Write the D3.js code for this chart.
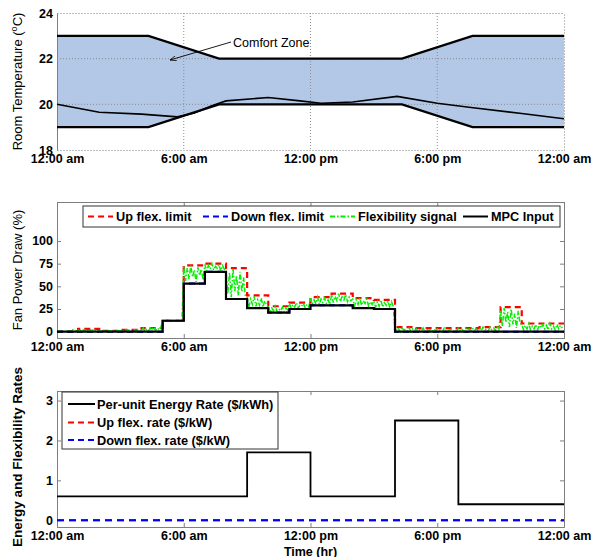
<!DOCTYPE html>
<html>
<head>
<meta charset="utf-8">
<script src="https://cdn.jsdelivr.net/npm/d3@7"></script>
<style>
  body { margin: 0; background: #fff; }
  svg { font-family: "Liberation Sans", Arial, sans-serif; }
</style>
</head>
<body>
<svg id="chart" width="600" height="557"></svg>
<script>
// ---- data ----
const xTickHours = [0, 6, 12, 18, 24];
const xTickLabels = ['12:00 am', '6:00 am', '12:00 pm', '6:00 pm', '12:00 am'];

// top panel: comfort zone and room temperature
const zoneHours = [0, 4.33, 7.67, 16.33, 19.67, 24];
const zoneUpper = [23, 23, 22, 22, 23, 23];
const zoneLower = [19, 19, 20, 20, 19, 19];
const tempHours = [0, 2, 4, 5.7, 6.5, 7.3, 8, 10, 11.5, 12.5, 14, 16.1, 18, 19.7, 22, 24];
const tempValues = [20, 19.65, 19.57, 19.45, 19.62, 19.93, 20.15, 20.3, 20.15, 20.05, 20.1, 20.35, 20.05, 19.85, 19.6, 19.37];
const tempTicks = [18, 20, 22, 24];

// middle panel: hourly fan power (%)
const mpcInput = [0, 0, 0, 0, 0, 12, 53, 66, 36, 26, 21, 25, 29, 29, 26, 25, 0, 0, 0, 0, 0, 0, 0, 0];
const upLimit = [0, 3, 1, 2, 4, 12, 73, 75, 70, 40, 28, 32, 38, 42, 37, 35, 5, 4, 4, 4, 5, 27, 9, 9];
const downLimit = [0, 0, 0, 0, 0, 12, 53, 66, 36, 26, 21, 25, 29, 29, 26, 25, 0, 0, 0, 0, 0, 0, 0, 0];
// flexibility signal, one value every 5 minutes (one row per hour)
const flexSignal = [
  0, 1, 0, 1, 0, 1, 0, 1, 0, 2, 0, 1,
  1, 3, 0, 2, 1, 3, 0, 2, 1, 3, 1, 2,
  0, 1, 0, 1, 0, 1, 1, 0, 1, 0, 1, 1,
  1, 2, 0, 2, 1, 2, 0, 1, 2, 1, 2, 1,
  1, 4, 0, 3, 1, 4, 2, 5, 1, 4, 2, 5,
  12, 12, 12, 12, 12, 12, 12, 12, 12, 12, 12, 12,
  72, 56, 70, 58, 73, 60, 68, 55, 71, 62, 69, 57,
  74, 67, 73, 69, 75, 68, 72, 70, 74, 67, 73, 69,
  68, 42, 65, 38, 70, 45, 62, 40, 66, 44, 60, 39,
  38, 27, 36, 30, 39, 28, 35, 29, 37, 27, 34, 30,
  27, 22, 26, 23, 28, 22, 25, 23, 27, 22, 26, 24,
  31, 26, 30, 27, 32, 26, 29, 28, 31, 26, 30, 27,
  37, 30, 35, 31, 38, 30, 36, 32, 37, 31, 35, 30,
  41, 32, 39, 34, 42, 33, 40, 35, 41, 33, 38, 34,
  36, 28, 35, 30, 37, 29, 34, 31, 36, 28, 33, 30,
  34, 27, 33, 28, 35, 27, 32, 29, 34, 27, 33, 28,
  4, 1, 3, 0, 5, 1, 3, 1, 4, 0, 3, 1,
  3, 0, 2, 1, 4, 0, 3, 1, 2, 0, 3, 1,
  3, 1, 2, 0, 4, 1, 2, 1, 3, 0, 2, 1,
  4, 1, 3, 0, 4, 2, 3, 1, 4, 1, 3, 2,
  4, 1, 5, 2, 3, 1, 5, 2, 4, 1, 5, 2,
  24, 6, 26, 10, 22, 5, 25, 8, 20, 4, 23, 9,
  8, 2, 7, 3, 9, 2, 6, 3, 8, 2, 7, 4,
  8, 3, 7, 2, 9, 3, 6, 2, 8, 3, 7, 4
];
const powerTicks = [0, 25, 50, 75, 100];

// bottom panel: rates
const rateHours = [0, 9, 12, 16, 19, 24];
const energyRate = [0.6, 1.7, 0.6, 2.5, 0.4, 0.4];
const upRate = [0, 0, 0, 0, 0, 0];
const downRate = [0, 0, 0, 0, 0, 0];
const rateTicks = [0, 1, 2, 3];

// ---- layout ----
const svg = d3.select('#chart');
const left = 57, right = 564;
const x = d3.scaleLinear().domain([0, 24]).range([left, right]);

const panels = {
  top: { y0: 13, y1: 150, domain: [18, 24] },
  mid: { y0: 202, y1: 338, domain: [-7, 143] },
  bot: { y0: 391, y1: 527, domain: [-0.17, 3.24] },
};
Object.values(panels).forEach(p => {
  p.y = d3.scaleLinear().domain(p.domain).range([p.y1, p.y0]);
});

const boxColor = '#7f7f7f';

function drawAxes(p, yTicks, grid) {
  const g = svg.append('g');
  const ts = grid ? 0 : -4;
  const xb = g.append('g').attr('transform', `translate(0,${p.y1})`)
    .call(d3.axisBottom(x).tickValues(xTickHours).tickFormat((d, i) => xTickLabels[i]).tickSize(ts).tickPadding(4));
  const xt = g.append('g').attr('transform', `translate(0,${p.y0})`)
    .call(d3.axisTop(x).tickValues(xTickHours).tickFormat('').tickSize(ts));
  const yl = g.append('g').attr('transform', `translate(${left},0)`)
    .call(d3.axisLeft(p.y).tickValues(yTicks).tickFormat(d => String(d)).tickSize(ts).tickPadding(4));
  const yr = g.append('g').attr('transform', `translate(${right},0)`)
    .call(d3.axisRight(p.y).tickValues(yTicks).tickFormat('').tickSize(ts));
  [xb, xt, yl, yr].forEach(a => {
    a.select('.domain').attr('stroke', boxColor).attr('stroke-width', 1);
    a.selectAll('.tick line').attr('stroke', boxColor);
    a.selectAll('.tick text').attr('font-size', 12.5).attr('font-weight', 'bold').attr('fill', '#000')
      .attr('font-family', '"Liberation Sans", Arial, sans-serif');
  });
  if (grid) {
    [xb, xt, yr].forEach(a => a.select('.domain').attr('stroke-dasharray', '1,2'));
  }
  return g;
}

// ---- top panel ----
const T = panels.top;
svg.append('path')
  .datum(zoneHours.map((h, i) => ({ h, u: zoneUpper[i], l: zoneLower[i] })))
  .attr('fill', '#b3c8e6')
  .attr('d', d3.area().x(d => x(d.h)).y0(d => T.y(d.l)).y1(d => T.y(d.u)));

// dotted grid
svg.append('g').selectAll('line').data(xTickHours.slice(1, 4)).join('line')
  .attr('x1', d => x(d)).attr('x2', d => x(d)).attr('y1', T.y0).attr('y2', T.y1)
  .attr('stroke', '#8c8c8c').attr('stroke-dasharray', '1,2');
svg.append('g').selectAll('line').data(tempTicks.slice(1, 3)).join('line')
  .attr('x1', left).attr('x2', right).attr('y1', d => T.y(d)).attr('y2', d => T.y(d))
  .attr('stroke', '#8c8c8c').attr('stroke-dasharray', '1,2');

drawAxes(T, tempTicks, true);

const zoneLine = d3.line().x(d => x(d[0])).y(d => T.y(d[1]));
[zoneUpper, zoneLower].forEach(arr => {
  svg.append('path').attr('d', zoneLine(zoneHours.map((h, i) => [h, arr[i]])))
    .attr('fill', 'none').attr('stroke', '#000').attr('stroke-width', 2.2);
});
svg.append('path').attr('d', zoneLine(tempHours.map((h, i) => [h, tempValues[i]])))
  .attr('fill', 'none').attr('stroke', '#000').attr('stroke-width', 1.6);

// annotation
svg.append('defs').append('marker')
  .attr('id', 'arrow').attr('viewBox', '0 0 10 10').attr('refX', 10).attr('refY', 5)
  .attr('markerWidth', 7).attr('markerHeight', 7).attr('orient', 'auto')
  .append('path').attr('d', 'M0,1 L10,5 L0,9').attr('fill', 'none').attr('stroke', '#000').attr('stroke-width', 1.2);
svg.append('line').attr('x1', 231).attr('y1', 42).attr('x2', 170).attr('y2', 60)
  .attr('stroke', '#000').attr('stroke-width', 0.9).attr('marker-end', 'url(#arrow)');
svg.append('text').attr('x', 233).attr('y', 47).attr('font-size', 12.5).text('Comfort Zone');

svg.append('text')
  .attr('transform', `translate(22,${(T.y0 + T.y1) / 2}) rotate(-90)`)
  .attr('text-anchor', 'middle').attr('font-size', 13)
  .html('Room Temperature (<tspan font-size="9" dy="-5">o</tspan><tspan dy="5">C)</tspan>');

// ---- middle panel ----
const M = panels.mid;
drawAxes(M, powerTicks, false);
const stepLine = d3.line().x(d => x(d[0])).y(d => M.y(d[1])).curve(d3.curveStepAfter);
const hourly = arr => [...arr.map((v, i) => [i, v]), [24, arr[arr.length - 1]]];

svg.append('path').attr('d', stepLine(hourly(upLimit)))
  .attr('fill', 'none').attr('stroke', '#ff0000').attr('stroke-width', 2.2).attr('stroke-dasharray', '6,4');
svg.append('path').attr('d', stepLine(hourly(downLimit)))
  .attr('fill', 'none').attr('stroke', '#0000ff').attr('stroke-width', 2).attr('stroke-dasharray', '6,4');
svg.append('path')
  .attr('d', d3.line().x((d, i) => x(i / 12)).y(d => M.y(d))(flexSignal))
  .attr('fill', 'none').attr('stroke', '#00f000').attr('stroke-width', 1.5).attr('stroke-dasharray', '5,2,1.5,2');
svg.append('path').attr('d', stepLine(hourly(mpcInput)))
  .attr('fill', 'none').attr('stroke', '#000').attr('stroke-width', 2.2);

// middle legend
const legM = [
  { label: 'Up flex. limit', color: '#ff0000', dash: '6,4', x0: 88 },
  { label: 'Down flex. limit', color: '#0000ff', dash: '6,4', x0: 203 },
  { label: 'Flexibility signal', color: '#00f000', dash: '5,2,1.5,2', x0: 330 },
  { label: 'MPC Input', color: '#000', dash: null, x0: 463 },
];
svg.append('rect').attr('x', 83).attr('y', 206).attr('width', 477).attr('height', 21)
  .attr('fill', '#fff').attr('stroke', '#333');
legM.forEach(d => {
  svg.append('line').attr('x1', d.x0).attr('x2', d.x0 + 25).attr('y1', 216.5).attr('y2', 216.5)
    .attr('stroke', d.color).attr('stroke-width', 2).attr('stroke-dasharray', d.dash);
  svg.append('text').attr('x', d.x0 + 28).attr('y', 221).attr('font-size', 12.7).attr('font-weight', 'bold').text(d.label);
});
svg.append('text')
  .attr('transform', `translate(22,${(M.y0 + M.y1) / 2}) rotate(-90)`)
  .attr('text-anchor', 'middle').attr('font-size', 13).text('Fan Power Draw (%)');

// ---- bottom panel ----
const B = panels.bot;
drawAxes(B, rateTicks, false);
const rateLine = d3.line().x(d => x(d[0])).y(d => B.y(d[1])).curve(d3.curveStepAfter);
svg.append('path').attr('d', rateLine(rateHours.map((h, i) => [h, energyRate[i]])))
  .attr('fill', 'none').attr('stroke', '#000').attr('stroke-width', 1.8);
svg.append('path').attr('d', rateLine(rateHours.map((h, i) => [h, upRate[i]])))
  .attr('fill', 'none').attr('stroke', '#ff0000').attr('stroke-width', 2).attr('stroke-dasharray', '7,5');
svg.append('path').attr('d', rateLine(rateHours.map((h, i) => [h, downRate[i]])))
  .attr('fill', 'none').attr('stroke', '#0000ff').attr('stroke-width', 2).attr('stroke-dasharray', '7,5');

const legB = [
  { label: 'Per-unit Energy Rate ($/kWh)', color: '#000', dash: null, y: 404 },
  { label: 'Up flex. rate ($/kW)', color: '#ff0000', dash: '6,4', y: 422.5 },
  { label: 'Down flex. rate ($/kW)', color: '#0000ff', dash: '6,4', y: 440 },
];
svg.append('rect').attr('x', 62).attr('y', 392).attr('width', 216).attr('height', 57)
  .attr('fill', '#fff').attr('stroke', '#333');
legB.forEach(d => {
  svg.append('line').attr('x1', 68).attr('x2', 95).attr('y1', d.y).attr('y2', d.y)
    .attr('stroke', d.color).attr('stroke-width', 2).attr('stroke-dasharray', d.dash);
  svg.append('text').attr('x', 97).attr('y', d.y + 4.5).attr('font-size', 12.8).attr('font-weight', 'bold').text(d.label);
});
svg.append('text')
  .attr('transform', `translate(22,457) rotate(-90)`)
  .attr('text-anchor', 'middle').attr('font-size', 13.5).attr('font-weight', 'bold').text('Energy and Flexibility Rates');
svg.append('text').attr('x', x(12)).attr('y', 556).attr('text-anchor', 'middle')
  .attr('font-size', 12.5).attr('font-weight', 'bold').text('Time (hr)');
</script>
</body>
</html>
